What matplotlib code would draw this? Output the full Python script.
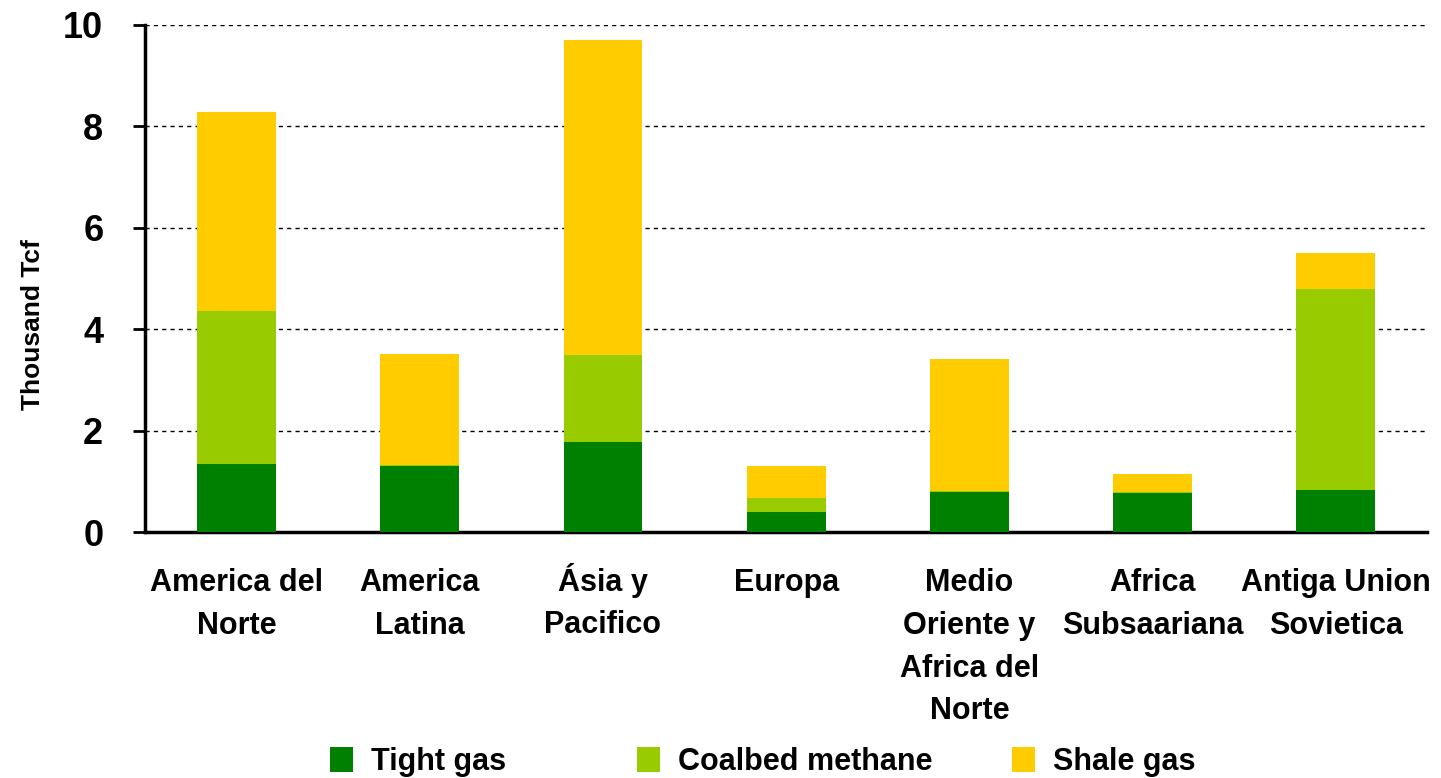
import matplotlib.pyplot as plt
import numpy as np

regions = ['America del\nNorte', 'America\nLatina', 'Ásia y\nPacifico', 'Europa',
           'Medio\nOriente y\nAfrica del\nNorte', 'Africa\nSubsaariana', 'Antiga Union\nSovietica']
tight_gas = [1.35, 1.30, 1.78, 0.40, 0.79, 0.77, 0.83]
coalbed = [3.01, 0.03, 1.71, 0.27, 0.02, 0.02, 3.96]
shale_gas = [3.92, 2.19, 6.22, 0.64, 2.60, 0.36, 0.71]

plt.rcParams['font.family'] = ['Liberation Sans', 'DejaVu Sans']

fig = plt.figure(figsize=(14.41, 7.78), dpi=100)
ax = fig.add_axes([0.1006, 0.316, 0.89, 0.652])

x = np.arange(len(regions))
w = 0.43
tight_gas = np.array(tight_gas)
coalbed = np.array(coalbed)
shale_gas = np.array(shale_gas)

b1 = ax.bar(x, tight_gas, w, color='#008000', label='Tight gas', zorder=3)
b2 = ax.bar(x, coalbed, w, bottom=tight_gas, color='#99CC00', label='Coalbed methane', zorder=3)
b3 = ax.bar(x, shale_gas, w, bottom=tight_gas + coalbed, color='#FFCC00', label='Shale gas', zorder=3)

ax.set_xlim(-0.5, len(regions) - 0.5)
ax.set_ylim(0, 10)
ax.set_yticks([0, 2, 4, 6, 8, 10])
ax.yaxis.grid(True, linestyle=(0, (3, 3)), color='black', linewidth=1)
ax.set_axisbelow(True)

for s in ['top', 'right']:
    ax.spines[s].set_visible(False)
ax.spines['left'].set_linewidth(2.5)
ax.spines['bottom'].set_linewidth(2.5)

# category labels as plain text so the accented one lines up with the rest
ax.set_xticks(x)
ax.set_xticklabels([])
ax.tick_params(axis='x', length=0)
for i, name in enumerate(regions):
    dy = -22 if name.startswith('Á') else -26
    ax.annotate(name, xy=(i, 0), xycoords=('data', 'axes fraction'), xytext=(0, dy),
                textcoords='offset points', ha='center', va='top', fontsize=22,
                fontweight='bold', linespacing=1.55)

ax.tick_params(axis='y', direction='out', length=9, width=2, labelsize=26, pad=21)
for lab in ax.get_yticklabels():
    lab.set_fontweight('bold')

ax.set_ylabel('Thousand Tcf', fontsize=19, fontweight='bold')
ax.yaxis.set_label_coords(-0.078, 0.41)

# legend entries placed one by one, the spacing in the original is uneven
for h, xpos in zip([b1, b2, b3], [336, 643, 1018]):
    fig.legend(handles=[h], loc='center left', bbox_to_anchor=(xpos / 1441 - 0.004, 1 - 762 / 778),
               frameon=False, prop={'size': 22, 'weight': 'bold'}, handlelength=0.75,
               handleheight=0.85, handletextpad=0.6, borderpad=0, borderaxespad=0)

fig.savefig('out.png', dpi=100)
